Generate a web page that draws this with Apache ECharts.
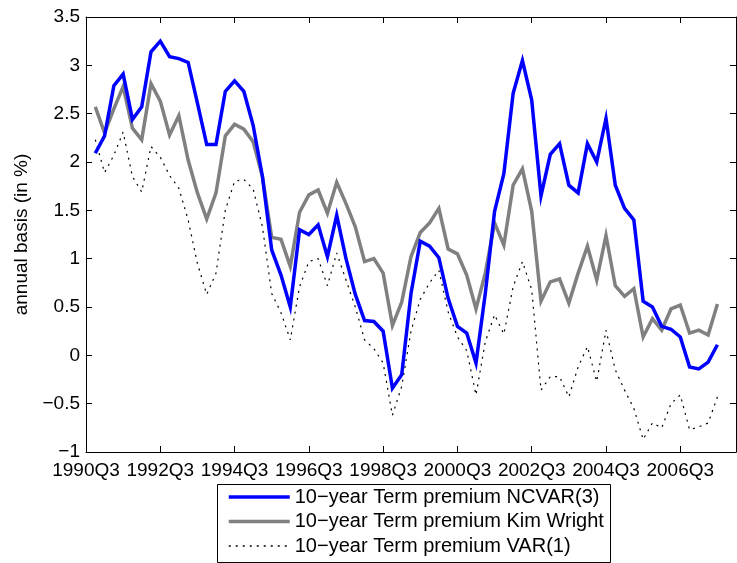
<!DOCTYPE html>
<html>
<head>
<meta charset="utf-8">
<script src="https://cdn.jsdelivr.net/npm/echarts@6.0.0/dist/echarts.min.js"></script>
<style>
  html, body { margin: 0; padding: 0; background: #fff; }
  #chart { width: 737px; height: 563px; }
</style>
</head>
<body>
<div id="chart"></div>
<script>
'use strict';

// quarters 1990Q3 .. 2008Q1 (axis range); data runs 1990Q4 .. 2007Q3
var firstYear = 1990, firstQuarter = 3, quarterCount = 71;
var quarters = [];
for (var q = 0; q < quarterCount; q++) {
    var k = firstQuarter - 1 + q;
    quarters.push((firstYear + Math.floor(k / 4)) + 'Q' + (k % 4 + 1));
}

var seriesNames = [
    '10\u2212year Term premium NCVAR(3)',
    '10\u2212year Term premium Kim Wright',
    '10\u2212year Term premium VAR(1)'
];

var ncvar = [
    2.09, 2.27, 2.79, 2.91, 2.44, 2.57, 3.14, 3.25, 3.09, 3.07,
    3.03, 2.61, 2.18, 2.18, 2.73, 2.84, 2.73, 2.38, 1.85, 1.09,
    0.83, 0.50, 1.30, 1.25, 1.35, 1.02, 1.45, 1.00, 0.63, 0.36,
    0.35, 0.25, -0.34, -0.20, 0.64, 1.18, 1.13, 1.01, 0.59, 0.30,
    0.23, -0.08, 0.64, 1.49, 1.88, 2.71, 3.05, 2.64, 1.65, 2.08,
    2.19, 1.76, 1.68, 2.19, 2.00, 2.45, 1.76, 1.52, 1.40, 0.56,
    0.50, 0.30, 0.27, 0.19, -0.12, -0.14, -0.07, 0.11
];

var kimWright = [
    2.57, 2.30, 2.55, 2.78, 2.35, 2.23, 2.81, 2.63, 2.28, 2.48,
    2.02, 1.68, 1.41, 1.68, 2.27, 2.39, 2.34, 2.21, 1.85, 1.22,
    1.20, 0.92, 1.48, 1.66, 1.71, 1.47, 1.79, 1.57, 1.33, 0.97,
    1.00, 0.85, 0.31, 0.55, 1.02, 1.27, 1.37, 1.52, 1.10, 1.05,
    0.83, 0.48, 0.85, 1.37, 1.14, 1.76, 1.93, 1.49, 0.56, 0.76,
    0.79, 0.54, 0.85, 1.13, 0.78, 1.24, 0.72, 0.61, 0.69, 0.19,
    0.38, 0.26, 0.48, 0.52, 0.23, 0.26, 0.21, 0.53
];

var var1 = [
    2.23, 1.89, 2.07, 2.31, 1.85, 1.69, 2.16, 2.05, 1.86, 1.73,
    1.40, 0.95, 0.63, 0.85, 1.50, 1.80, 1.82, 1.72, 1.33, 0.64,
    0.44, 0.16, 0.71, 0.97, 1.00, 0.72, 1.06, 0.78, 0.50, 0.16,
    0.07, -0.08, -0.62, -0.32, 0.25, 0.58, 0.75, 0.88, 0.45, 0.19,
    0.05, -0.41, 0.14, 0.42, 0.22, 0.71, 0.97, 0.68, -0.36, -0.22,
    -0.22, -0.43, -0.12, 0.09, -0.27, 0.26, -0.15, -0.36, -0.55, -0.87,
    -0.70, -0.75, -0.50, -0.41, -0.77, -0.74, -0.70, -0.43
];

var yMin = -1, yMax = 3.5, yStep = 0.5;

var font = '"Liberation Sans", Arial, Helvetica, sans-serif';

function padded(values) {
    // data starts one quarter after the axis start
    return [null].concat(values);
}

var chart = echarts.init(document.getElementById('chart'), null, {renderer: 'canvas'});

var tickStyle = {show: true, inside: true, length: 6, interval: 7, lineStyle: {color: '#000', width: 1}};
var lineAxis = {show: true, onZero: false, lineStyle: {color: '#000', width: 1}};

var option = {
    animation: false,
    backgroundColor: '#fff',
    textStyle: {fontFamily: font},
    grid: {left: 86, right: 1, top: 17, bottom: 111, containLabel: false},
    legend: {
        orient: 'vertical',
        left: 215,
        top: 482,
        padding: [5, 6, 5, 12],
        itemWidth: 61,
        itemHeight: 20,
        itemGap: 4.5,
        itemStyle: {opacity: 0},
        textStyle: {fontFamily: font, fontSize: 20, color: '#000'},
        data: [
            {name: seriesNames[0], lineStyle: {width: 3.5}},
            {name: seriesNames[1], lineStyle: {width: 3.5}},
            {name: seriesNames[2], lineStyle: {width: 1.5}}
        ]
    },
    graphic: [{
        type: 'rect',
        left: 215,
        top: 482,
        shape: {width: 393, height: 78},
        style: {fill: 'none', stroke: '#000', lineWidth: 1}
    }],
    xAxis: [
        {
            type: 'category',
            data: quarters,
            boundaryGap: false,
            axisLine: lineAxis,
            axisTick: tickStyle,
            axisLabel: {interval: 7, margin: 9, color: '#000', fontSize: 19, fontFamily: font},
            splitLine: {show: false}
        },
        {
            type: 'category',
            data: quarters,
            position: 'top',
            boundaryGap: false,
            axisLine: lineAxis,
            axisTick: tickStyle,
            axisLabel: {show: false},
            splitLine: {show: false}
        }
    ],
    yAxis: [
        {
            type: 'value',
            min: yMin,
            max: yMax,
            interval: yStep,
            name: 'annual basis (in %)',
            nameLocation: 'middle',
            nameRotate: 90,
            nameGap: 52,
            nameTextStyle: {fontSize: 19, color: '#000', fontFamily: font},
            axisLine: {show: true, lineStyle: {color: '#000', width: 1}},
            axisTick: {show: true, inside: true, length: 6, lineStyle: {color: '#000'}},
            axisLabel: {
                margin: 6, color: '#000', fontSize: 19, fontFamily: font,
                formatter: function (v) { return String(v).replace('-', '\u2212'); }
            },
            splitLine: {show: false}
        },
        {
            type: 'value',
            min: yMin,
            max: yMax,
            interval: yStep,
            position: 'right',
            axisLine: {show: true, lineStyle: {color: '#000', width: 1}},
            axisTick: {show: true, inside: true, length: 6, lineStyle: {color: '#000'}},
            axisLabel: {show: false},
            splitLine: {show: false}
        }
    ],
    series: [
        {
            name: seriesNames[0],
            type: 'line',
            z: 4,
            symbol: 'none',
            data: padded(ncvar),
            lineStyle: {color: '#0000ff', width: 3.5, join: 'miter'},
            itemStyle: {color: '#0000ff'}
        },
        {
            name: seriesNames[1],
            type: 'line',
            z: 3,
            symbol: 'none',
            data: padded(kimWright),
            lineStyle: {color: '#808080', width: 3.5, join: 'miter'},
            itemStyle: {color: '#808080'}
        },
        {
            name: seriesNames[2],
            type: 'line',
            z: 2,
            symbol: 'none',
            data: padded(var1),
            lineStyle: {color: '#000', width: 1.2, type: [2, 5]},
            itemStyle: {color: '#000'}
        }
    ]
};

chart.setOption(option);
</script>
</body>
</html>
